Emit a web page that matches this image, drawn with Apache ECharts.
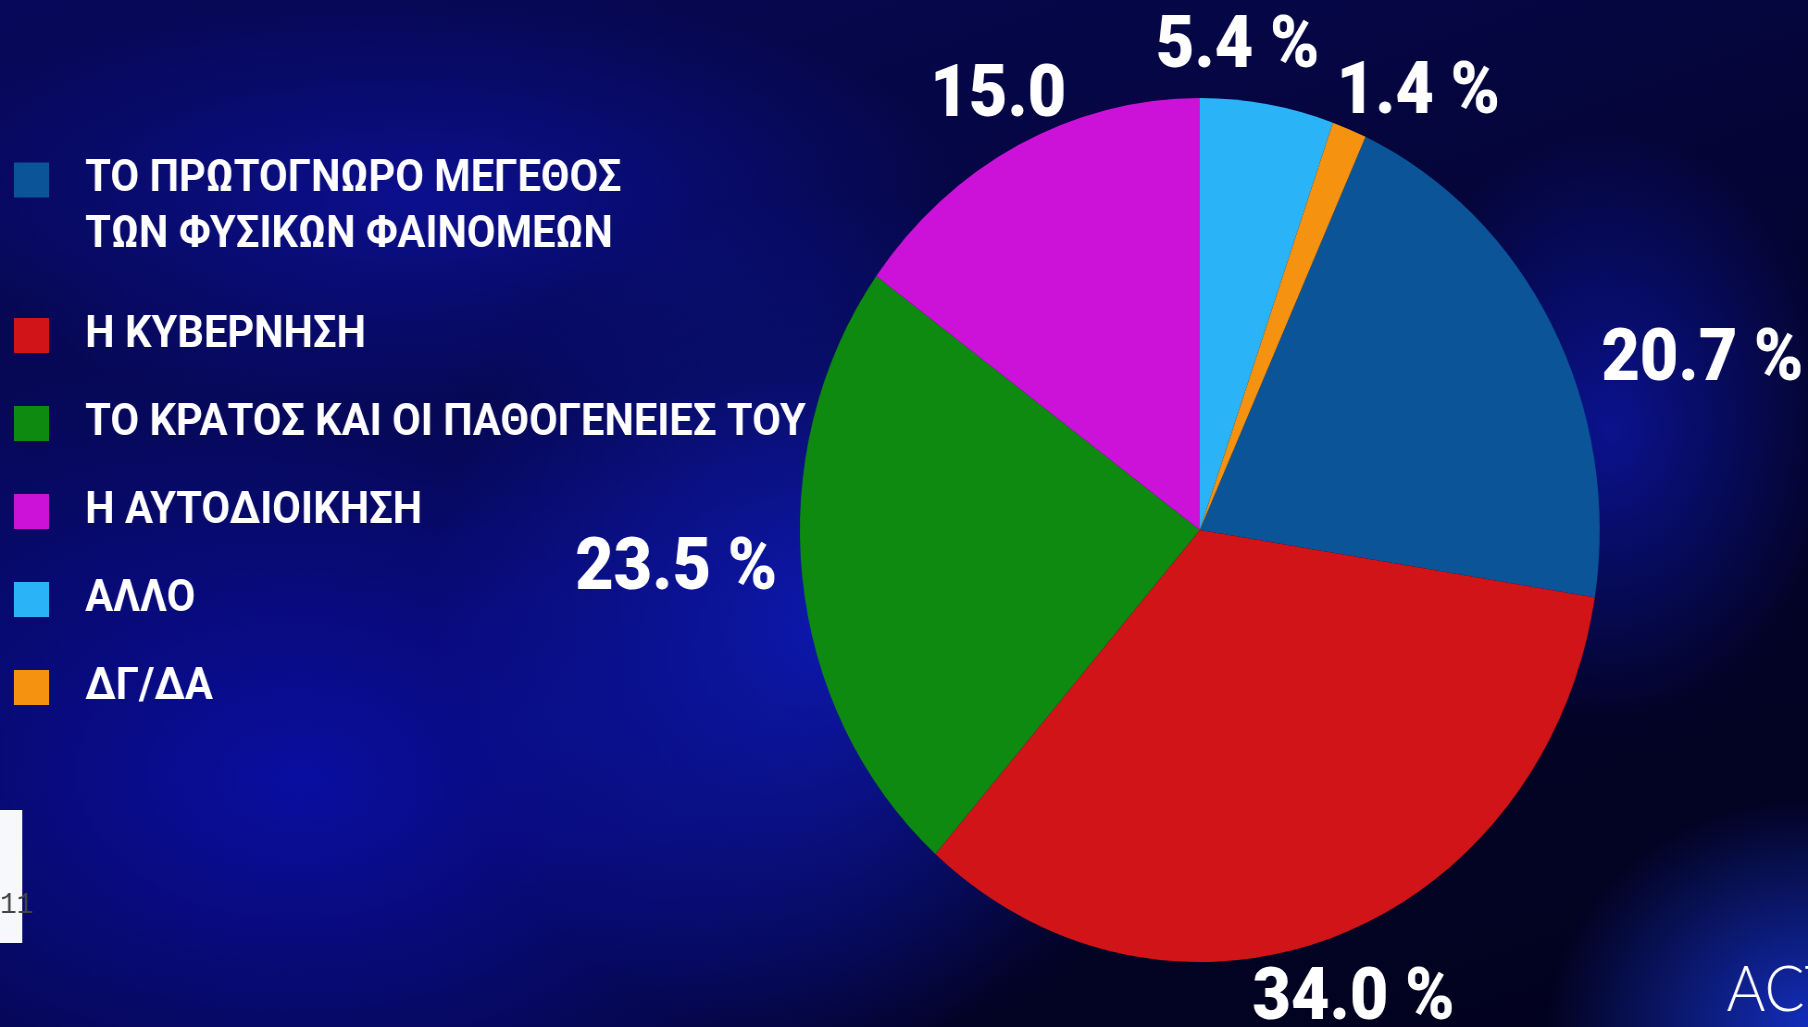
<!DOCTYPE html>
<html>
<head>
<meta charset="utf-8">
<script src="https://cdn.jsdelivr.net/npm/echarts@6/dist/echarts.min.js"></script>
<style>
html, body { margin: 0; padding: 0; width: 1808px; height: 1027px; overflow: hidden; }
body {
    background:
        radial-gradient(ellipse 260px 230px at 1808px 1027px, rgba(25,60,240,0.75), rgba(25,60,240,0) 100%),
        radial-gradient(ellipse 230px 300px at 1610px 430px, rgba(14,26,195,0.65), rgba(14,26,195,0) 100%),
        radial-gradient(ellipse 400px 430px at 830px 620px, rgba(16,30,205,0.75), rgba(16,30,205,0) 100%),
        radial-gradient(ellipse 760px 520px at 300px 780px, rgba(10,14,160,1), rgba(10,14,160,0) 100%),
        radial-gradient(ellipse 560px 210px at 420px 200px, rgba(12,16,150,0.9), rgba(12,16,150,0) 100%),
        radial-gradient(ellipse 480px 130px at 430px 470px, rgba(4,4,45,0.55), rgba(4,4,45,0) 100%),
        linear-gradient(160deg, #07085a 0%, #050640 35%, #030328 65%, #02021e 100%);
}
#main { width: 1953px; height: 1027px; transform: scaleX(0.92576); transform-origin: 0 0; }
</style>
</head>
<body>
<div id="main"></div>
<script>
var categories = ['ΤΟ ΠΡΩΤΟΓΝΩΡΟ ΜΕΓΕΘΟΣ\nΤΩΝ ΦΥΣΙΚΩΝ ΦΑΙΝΟΜΕΩΝ', 'Η ΚΥΒΕΡΝΗΣΗ', 'ΤΟ ΚΡΑΤΟΣ ΚΑΙ ΟΙ ΠΑΘΟΓΕΝΕΙΕΣ ΤΟΥ', 'Η ΑΥΤΟΔΙΟΙΚΗΣΗ', 'ΑΛΛΟ', 'ΔΓ/ΔΑ'];
var values = [20.7, 34.0, 23.5, 15.0, 5.4, 1.4];
var colors = ['#0b5498', '#d01418', '#0f8a10', '#cc12d8', '#2ab3f6', '#f5920f'];
var showPercent = [true, true, true, false, true, true];

// where each value label sits: angle (deg) and distance (x radius) from the centre
var labelAngle = [17.7, -70.4, 183.6, 116.5, 85.2, 61.8];
var labelDist = [1.319, 1.145, 1.312, 1.130, 1.129, 1.156];

var cx = 1296, cy = 530, R = 432;

var myChart = echarts.init(document.getElementById('main'));

var pieData = categories.map(function (name, i) {
    return { name: name, value: values[i], itemStyle: { color: colors[i] } };
});

var legendFont = {
    color: '#fff', fontFamily: 'Roboto', fontWeight: 'bold', fontSize: 45, padding: [0, 0, 0, 34]
};

var option = {
    backgroundColor: 'transparent',
    animation: false,
    legend: {
        orient: 'vertical',
        left: 10,
        top: 111,
        itemWidth: 38,
        itemHeight: 35,
        itemGap: 43,
        icon: 'rect',
        data: categories,
        formatter: function (name) {
            var lines = name.split('\n');
            if (lines.length > 1) {
                // padding lines keep the square level with the first text line
                return '{gap| }\n{t|' + lines[0] + '}\n{t|' + lines[1] + '}\n{end| }';
            }
            return '{t|' + name + '}';
        },
        textStyle: {
            color: '#fff',
            rich: {
                gap: { fontSize: 10, lineHeight: 62 },
                end: { fontSize: 6, lineHeight: 6 },
                t: Object.assign({ lineHeight: 56 }, legendFont)
            }
        }
    },
    series: [{
        type: 'pie',
        center: [cx, cy],
        radius: R,
        startAngle: 90 - (values[4] + values[5]) * 3.6,
        clockwise: true,
        avoidLabelOverlap: false,
        data: pieData,
        label: {
            show: true,
            position: 'outside',
            color: '#fff',
            fontFamily: 'Roboto',
            fontWeight: 900,
            fontSize: 72,
            formatter: function (p) {
                return p.value.toFixed(1) + (showPercent[p.dataIndex] ? ' %' : '');
            }
        },
        labelLine: { show: false },
        labelLayout: function (p) {
            var i = p.dataIndex;
            var a = labelAngle[i] * Math.PI / 180;
            return {
                x: cx + labelDist[i] * R * Math.cos(a),
                y: cy - labelDist[i] * R * Math.sin(a) + 5,
                align: 'center',
                verticalAlign: 'middle'
            };
        },
        emphasis: { disabled: true }
    }],
    graphic: [
        {
            type: 'rect',
            left: 0, top: 810,
            shape: { width: 24, height: 133 },
            style: { fill: '#f7f8fc' }
        },
        {
            type: 'text',
            left: 0, top: 890,
            style: { text: '11', fill: '#444', fontFamily: 'Liberation Mono', fontSize: 30 }
        },
        {
            type: 'text',
            left: 1865, top: 958,
            style: { text: 'ACT', fill: '#fff', fontFamily: 'Lato', fontWeight: 300, fontSize: 64 }
        }
    ]
};

myChart.setOption(option);
</script>
</body>
</html>
